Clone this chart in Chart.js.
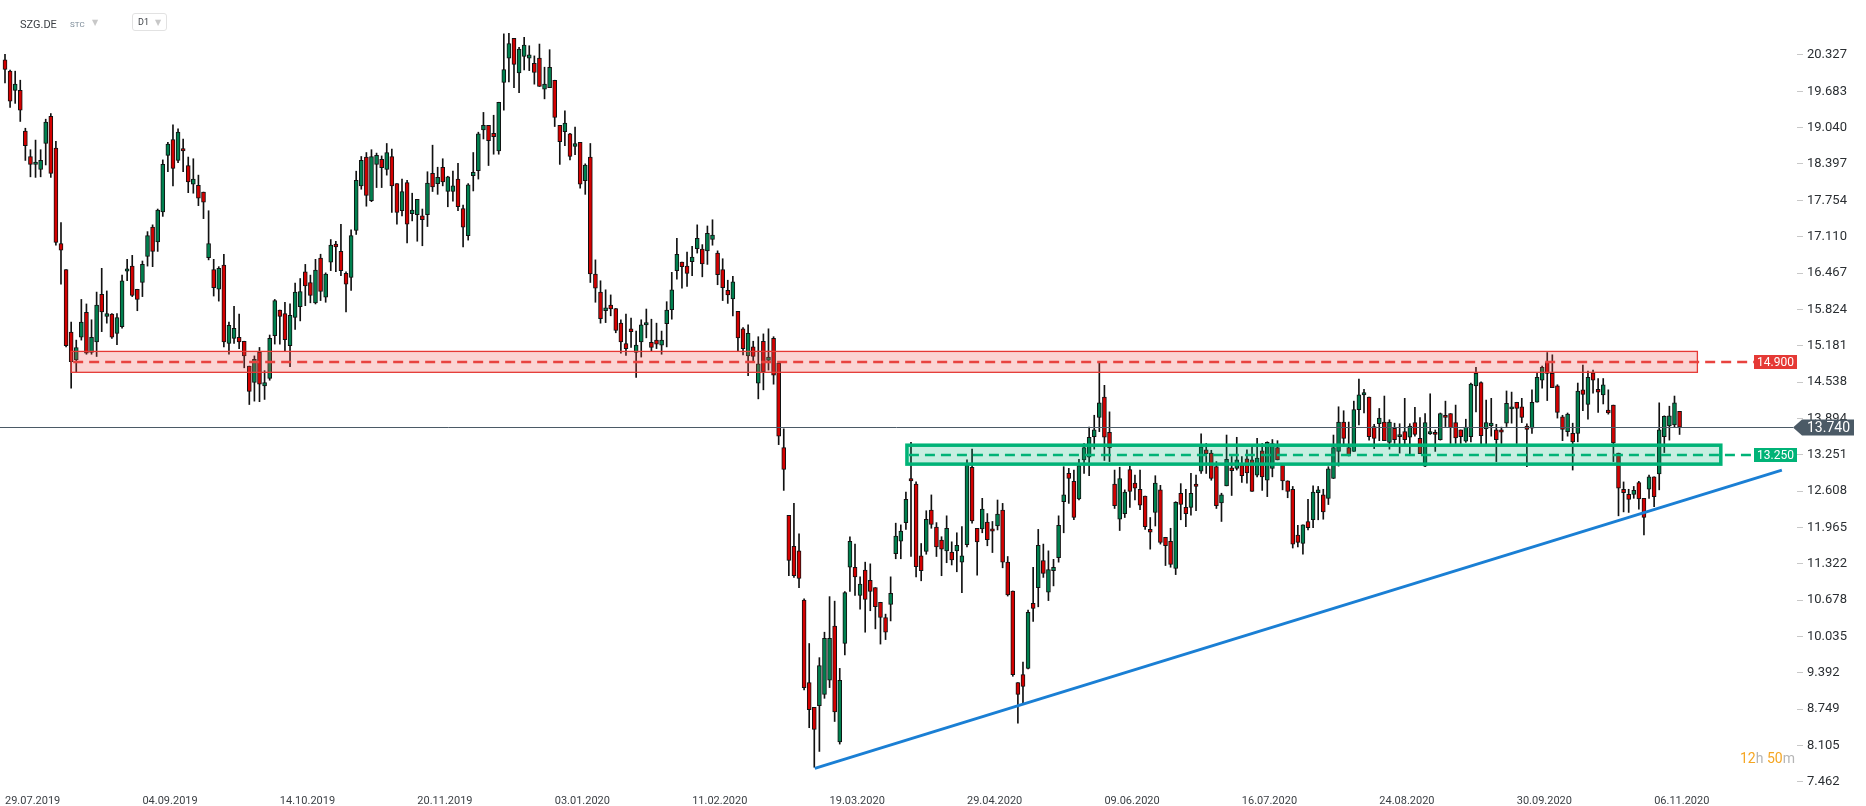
<!DOCTYPE html>
<html>
<head>
<meta charset="utf-8">
<title>SZG.DE D1</title>
<script src="https://cdn.jsdelivr.net/npm/chart.js@4/dist/chart.umd.min.js"></script>
<style>
  body { margin: 0; background: #fff; font-family: Roboto, "DejaVu Sans", sans-serif; }
  #wrap { position: relative; width: 1866px; height: 806px; overflow: hidden; }
  #c { position: absolute; left: 0; top: 0; }
  .sym { position: absolute; left: 20px; top: 18px; font-size: 11px; color: #3b3f44; }
  .stc { position: absolute; left: 70px; top: 20px; font-size: 8px; color: #7d8c99; }
  .caret { position: absolute; font-size: 8px; color: #c8c8c8; }
  .tf { position: absolute; left: 132px; top: 13px; width: 33px; height: 16px; border: 1px solid #e2e2e2; border-radius: 3px; }
  .tf span { position: absolute; left: 5px; top: 3px; font-size: 9px; color: #3b3f44; }
  .timer { position: absolute; left: 1740px; top: 750px; font-size: 14px; color: #f5a623; }
  .timer i { font-style: normal; color: #b5b5b5; }
</style>
</head>
<body>
<div id="wrap">
  <canvas id="c" width="1866" height="806"></canvas>
  <div class="sym">SZG.DE</div>
  <div class="stc">STC</div>
  <div class="caret" style="left:92px;top:18px">&#9660;</div>
  <div class="tf"><span>D1</span><span style="left:22px;color:#c8c8c8;font-size:8px;top:4px">&#9660;</span></div>
  <div class="timer">12<i>h</i> 50<i>m</i></div>
</div>
<script>
// daily candles, 29.07.2019 .. 13.11.2020 (index = trading day)
const opens = [
20.24,20.04,19.70,19.70,18.98,18.53,18.39,18.30,18.76,19.24,18.68,16.99,16.53,15.42,14.93,15.33,15.77,15.06,15.25,16.09,
15.70,15.74,15.40,15.52,16.50,16.59,16.18,16.30,16.76,17.28,17.02,17.55,18.55,18.83,18.46,18.67,18.37,18.04,18.02,17.90,
16.74,16.53,16.18,16.61,15.22,15.31,15.33,15.26,14.82,14.53,15.07,14.47,14.60,15.36,15.81,15.75,15.18,15.68,15.87,16.49,
16.30,15.94,16.73,16.04,16.66,16.98,16.85,16.46,16.39,17.22,18.01,18.52,17.75,18.39,18.48,18.30,18.53,18.05,17.57,18.07,
17.52,17.50,17.48,17.50,18.23,18.05,18.34,17.91,17.91,18.13,17.61,17.13,18.19,18.28,19.00,19.08,18.94,18.63,19.84,20.27,
20.62,20.01,20.30,20.27,20.18,20.27,19.72,19.75,19.88,19.08,18.97,18.93,18.71,18.78,18.10,18.52,16.45,16.13,15.80,15.90,
15.84,15.58,15.22,15.48,15.06,15.25,15.55,15.24,15.28,15.19,15.57,15.82,16.51,16.66,16.59,16.67,16.90,16.89,16.86,17.06,
16.82,16.53,16.16,16.01,15.79,15.48,15.00,15.16,14.52,15.26,14.92,15.31,14.87,13.38,12.18,11.63,11.55,10.68,9.22,8.78,
8.81,9.01,9.26,10.22,8.17,9.91,11.26,11.26,10.76,11.21,11.03,10.90,10.64,10.37,10.60,11.50,11.72,12.05,12.83,12.73,
11.46,11.54,12.27,11.97,11.74,11.55,11.53,11.55,11.35,11.66,13.03,11.95,11.94,12.06,11.94,11.99,12.27,11.35,10.84,9.22,
9.36,9.47,10.62,10.90,11.38,10.82,11.20,11.43,12.42,12.92,12.78,12.47,13.16,13.21,13.57,13.91,14.27,13.65,12.73,12.11,
12.21,12.99,12.75,12.64,12.52,11.93,12.23,12.63,11.79,11.72,11.24,12.57,12.32,12.32,12.73,12.96,13.34,13.28,13.04,12.40,
12.70,13.02,13.01,13.07,13.18,13.16,12.89,13.32,12.80,13.01,13.38,13.07,12.79,12.64,11.83,11.68,12.07,12.10,12.58,12.54,
12.48,12.83,13.31,13.83,13.38,13.31,14.05,14.31,14.27,13.75,13.80,13.83,13.47,13.72,13.57,13.66,13.56,13.82,13.54,13.05,
13.62,13.65,13.52,13.95,13.98,13.82,13.69,13.49,13.57,14.47,14.53,13.71,13.76,13.69,13.69,13.81,14.06,14.18,14.10,13.76,
13.72,14.18,14.57,14.89,14.69,14.47,13.92,13.66,13.63,13.63,14.40,14.14,14.70,14.41,14.31,14.04,14.13,13.28,12.64,12.55,
12.55,12.76,12.48,12.64,12.86,12.91,13.57,13.76,13.78,14.02
];
const highs = [
20.34,20.06,20.04,19.88,19.03,18.65,18.82,18.65,19.19,19.29,18.80,17.36,16.53,15.60,15.28,16.00,15.92,15.64,16.13,16.55,
16.15,15.75,15.75,16.43,16.71,16.78,16.18,16.68,17.20,17.32,17.60,18.47,18.78,19.09,19.02,18.84,18.52,18.49,18.20,17.90,
17.57,16.71,16.58,16.80,15.60,15.88,15.74,15.26,14.82,15.00,15.15,14.74,15.37,16.00,15.81,15.95,15.92,16.29,16.37,16.62,
16.43,16.71,16.80,16.47,17.06,17.03,17.33,16.49,17.23,18.27,18.53,18.60,18.65,18.59,18.54,18.76,18.66,18.05,18.13,18.11,
17.88,17.77,17.60,18.26,18.73,18.34,18.49,18.18,18.27,18.41,17.67,18.05,18.60,18.96,19.31,19.08,19.26,19.49,20.70,20.71,
20.62,20.46,20.64,20.49,20.31,20.52,20.11,20.42,19.88,19.08,19.34,18.94,19.05,18.78,18.40,18.76,16.70,16.33,16.17,16.08,
15.84,15.64,15.74,15.67,15.44,15.64,15.83,15.65,15.58,15.44,15.96,16.48,17.08,16.66,16.84,16.94,17.32,16.97,17.30,17.41,
16.86,16.72,16.34,16.41,15.79,15.50,15.55,15.26,15.34,15.39,15.48,15.34,14.87,13.71,12.18,12.39,11.85,10.70,9.91,8.78,
9.66,10.11,10.74,10.66,9.47,10.83,11.80,11.67,11.09,11.35,11.32,10.90,10.64,10.43,11.09,12.04,12.01,12.59,13.47,12.77,
11.68,12.26,12.54,12.05,11.80,12.17,11.71,11.87,11.98,13.16,13.35,11.95,12.48,12.21,12.07,12.45,12.39,11.45,10.84,9.22,
9.58,10.50,11.26,11.93,11.67,11.55,11.40,12.17,13.04,13.01,12.98,13.17,13.45,13.74,13.95,14.89,14.48,14.01,12.98,13.03,
12.63,13.05,12.89,12.98,12.52,12.14,12.88,12.71,11.79,11.95,12.42,12.74,12.64,12.92,12.89,13.62,13.45,13.33,13.13,12.57,
13.60,13.22,13.56,13.22,13.34,13.42,13.54,13.45,13.48,13.52,13.50,13.07,12.79,12.69,12.00,12.01,12.46,12.70,12.69,12.64,
13.04,13.60,14.10,14.03,13.83,14.20,14.59,14.41,14.27,13.79,14.07,14.29,13.87,13.81,13.80,14.25,13.80,14.09,13.91,13.98,
14.33,13.69,13.99,14.20,13.98,14.13,13.69,13.88,14.52,14.80,14.54,14.22,14.25,13.79,13.74,14.38,14.36,14.18,14.25,13.80,
14.40,14.69,14.82,15.06,15.02,14.49,13.95,13.99,13.81,14.52,14.84,14.73,14.75,14.60,14.60,14.40,14.13,13.28,12.77,12.64,
12.69,12.78,12.48,12.89,12.86,14.17,13.94,14.11,14.29,14.02
];
const lows = [
19.83,19.40,19.47,19.15,18.46,18.17,18.16,18.17,18.38,18.16,16.96,16.27,15.16,14.43,14.72,15.28,15.03,15.03,14.99,15.43,
15.58,15.31,15.20,15.49,16.33,16.05,15.80,16.05,16.59,16.58,16.85,17.47,18.26,18.01,18.42,18.26,17.89,17.88,17.66,17.43,
16.70,16.06,15.97,15.16,15.03,15.22,15.13,14.79,14.14,14.20,14.19,14.23,14.57,15.21,15.21,15.09,14.81,15.47,15.62,15.89,
15.94,15.92,15.98,15.95,16.51,16.49,16.42,15.78,16.16,17.15,17.95,17.65,17.73,17.98,17.98,18.20,17.54,17.33,17.48,17.00,
17.39,17.03,16.95,17.29,17.91,17.86,18.01,17.64,17.74,17.57,16.93,17.05,17.92,18.13,18.84,18.37,18.57,18.57,19.35,19.85,
19.75,19.66,20.06,20.05,19.81,19.77,19.55,19.75,19.06,18.39,18.72,18.47,18.56,17.97,17.86,16.30,15.95,15.58,15.59,15.71,
15.41,15.05,15.01,15.15,14.62,14.98,15.32,15.09,15.13,15.03,15.16,15.65,16.36,16.20,16.23,16.42,16.82,16.40,16.62,16.96,
16.26,15.98,15.93,15.71,15.09,15.02,14.65,14.89,14.24,14.40,14.75,14.50,13.43,12.62,11.11,11.08,10.90,9.09,8.42,7.72,
8.00,8.94,9.13,8.53,8.13,9.71,10.83,10.76,10.52,10.11,10.49,10.17,9.90,9.98,10.31,11.41,11.41,11.93,11.45,11.09,
11.02,11.49,11.95,11.45,11.11,11.34,11.30,11.18,10.81,11.62,12.04,11.12,11.87,11.64,11.52,11.92,11.25,10.75,9.33,8.50,
8.85,9.46,10.30,10.56,11.08,10.67,10.93,11.35,11.87,12.39,12.10,12.45,12.92,12.88,13.35,13.66,13.15,13.13,12.30,11.91,
12.14,12.32,12.45,12.28,11.93,11.58,11.99,11.67,11.29,11.26,11.13,12.10,11.98,12.18,12.26,12.92,12.92,12.80,12.30,12.07,
12.70,12.53,12.98,12.76,12.75,12.60,12.86,12.62,12.51,12.86,13.16,12.63,12.49,11.60,11.62,11.49,11.92,11.96,12.10,12.11,
12.37,12.83,13.05,13.40,13.23,13.31,13.78,13.99,13.51,13.36,13.50,13.50,13.35,13.45,13.28,13.42,13.26,13.58,13.27,13.04,
13.61,13.31,13.51,13.75,13.45,13.45,13.45,13.47,13.48,14.01,13.42,13.42,13.58,13.13,13.45,13.75,13.81,13.45,13.82,13.04,
13.63,14.18,14.43,14.21,14.44,13.90,13.50,13.58,12.98,13.48,14.03,13.88,14.34,14.00,14.15,13.97,13.13,12.17,12.24,12.23,
12.48,12.29,11.83,12.48,12.33,12.63,13.29,13.51,13.74,13.61
];
const closes = [
20.07,19.51,19.81,19.35,18.72,18.39,18.43,18.46,19.14,18.23,17.01,16.87,15.18,14.90,15.15,15.60,15.05,15.33,15.90,15.78,
15.75,15.33,15.68,16.33,16.54,16.07,16.00,16.62,17.13,16.85,17.58,18.39,18.75,18.32,18.96,18.63,18.08,18.13,17.79,17.72,
16.99,16.21,16.55,15.25,15.54,15.49,15.25,15.00,14.37,14.94,14.50,14.53,15.31,15.98,15.70,15.29,15.72,16.13,16.14,16.24,
16.07,16.52,16.14,16.45,16.96,16.93,16.51,16.27,17.13,18.11,18.46,17.84,18.53,18.55,18.33,18.60,18.01,17.54,17.91,17.33,
17.58,17.77,17.41,18.06,17.99,18.16,18.08,18.17,18.01,17.64,17.28,18.03,18.25,18.93,19.08,18.81,18.88,19.49,20.07,20.53,
20.16,20.43,20.50,20.33,20.02,19.77,19.81,20.11,19.22,18.79,19.12,18.53,18.76,18.04,18.38,16.45,16.20,15.66,15.85,15.83,
15.45,15.25,15.13,15.43,15.19,15.55,15.59,15.15,15.21,15.28,15.81,16.17,16.80,16.58,16.46,16.75,17.08,16.63,17.17,17.14,
16.44,16.21,16.08,16.31,15.32,15.13,15.40,14.99,14.86,14.72,14.98,14.66,13.58,12.99,11.38,11.11,11.06,9.13,8.74,8.39,
9.52,10.00,10.00,8.70,9.26,10.81,11.72,11.09,10.96,10.69,10.83,10.56,10.37,10.11,10.80,11.81,11.90,12.46,12.79,11.27,
11.20,12.11,12.02,11.62,11.58,11.95,11.39,11.65,11.46,13.07,12.08,11.71,12.29,11.75,11.90,12.20,11.35,10.77,9.36,9.01,
9.15,10.46,10.53,11.65,11.15,11.22,11.26,12.00,12.54,12.83,12.14,13.06,13.38,13.56,13.69,14.17,13.56,13.37,12.35,12.83,
12.59,12.60,12.66,12.36,11.98,11.88,12.75,11.70,11.64,11.31,12.41,12.37,12.21,12.57,12.69,13.39,13.27,12.83,12.35,12.54,
13.17,12.97,13.16,12.88,12.93,12.60,13.19,12.86,13.47,13.45,13.16,12.79,12.60,11.67,11.70,12.01,11.96,12.59,12.63,12.24,
13.00,13.38,13.83,13.54,13.23,14.05,14.31,14.35,13.57,13.54,13.90,13.50,13.83,13.52,13.61,13.52,13.76,13.61,13.27,13.82,
13.66,13.61,13.98,13.91,13.73,13.55,13.57,13.74,14.50,14.69,13.59,13.82,13.81,13.52,13.65,14.16,14.10,14.07,13.91,13.70,
14.18,14.62,14.80,14.69,14.44,14.00,13.70,13.97,13.48,14.38,14.32,14.62,14.57,14.36,14.49,13.99,13.46,12.66,12.58,12.46,
12.62,12.47,12.14,12.86,12.51,13.69,13.93,13.94,14.17,13.74
];

// date axis: one label every 27 sessions
const dateTicks = [0, 27, 54, 81, 108, 135, 162, 189, 216, 243, 270, 297, 324];
const dateLabels = ['29.07.2019', '04.09.2019', '14.10.2019', '20.11.2019', '03.01.2020', '11.02.2020',
  '19.03.2020', '29.04.2020', '09.06.2020', '16.07.2020', '24.08.2020', '30.09.2020', '06.11.2020'];
const priceTicks = [7.462, 8.105, 8.749, 9.392, 10.035, 10.678, 11.322, 11.965, 12.608, 13.251, 13.894,
  14.538, 15.181, 15.824, 16.467, 17.110, 17.754, 18.397, 19.040, 19.683, 20.327];

const lastPrice = 13.74;
// zones: [fromIndex, toIndex, low, high]
const redZone = [13, 332.5, 14.71, 15.08];
const redLevel = 14.90;
const greenZone = [177.2, 337.1, 13.085, 13.42];
const greenLevel = 13.25;
// support trend line (index, price)
const trendX = [159.1, 349.1];
const trendY = [7.70, 12.98];

const UP = '#00804f', DOWN = '#d40000';
const candleCol = opens.map((o, i) => closes[i] >= o ? UP : DOWN);

const bodies = opens.map((o, i) => ({ x: i, y: [o, closes[i]] }));
const wicks = lows.map((l, i) => ({ x: i, y: [l, highs[i]] }));

const overlays = {
  id: 'overlays',
  afterDatasetsDraw(chart) {
    const { ctx, chartArea, scales: { x, y } } = chart;
    const tagL = chartArea.right - 43;

    function zone(z, level, fill, stroke, lw, dash) {
      const x0 = x.getPixelForValue(z[0]), x1 = x.getPixelForValue(z[1]);
      const yHi = y.getPixelForValue(z[3]), yLo = y.getPixelForValue(z[2]);
      ctx.save();
      ctx.fillStyle = fill;
      ctx.fillRect(x0, yHi, x1 - x0, yLo - yHi);
      ctx.strokeStyle = stroke;
      ctx.lineWidth = lw;
      ctx.strokeRect(x0, yHi, x1 - x0, yLo - yHi);
      const yl = Math.round(y.getPixelForValue(level));
      ctx.setLineDash([10, 6]);
      ctx.lineWidth = 2.5;
      ctx.strokeStyle = dash;
      ctx.beginPath();
      ctx.moveTo(x0 + 2, yl);
      ctx.lineTo(tagL, yl);
      ctx.stroke();
      ctx.restore();
    }
    zone(redZone, redLevel, 'rgba(239,83,80,0.25)', '#e53935', 1.3, '#e8433f');
    zone(greenZone, greenLevel, 'rgba(0,179,119,0.22)', '#00b377', 3.5, '#00b377');

    // last price line
    const yp = Math.round(y.getPixelForValue(lastPrice)) + 0.5;
    ctx.save();
    ctx.strokeStyle = '#4b5a66';
    ctx.lineWidth = 1;
    ctx.beginPath();
    ctx.moveTo(chartArea.left, yp);
    ctx.lineTo(chartArea.right - 4, yp);
    ctx.stroke();
    ctx.restore();
  },
  afterDraw(chart) {
    const { ctx, chartArea, scales: { y } } = chart;
    const tagL = chartArea.right - 43;
    ctx.save();
    ctx.font = '12px Roboto, "DejaVu Sans", sans-serif';
    ctx.textBaseline = 'middle';
    ctx.textAlign = 'center';
    [[redLevel, '#e53935'], [greenLevel, '#00b377']].forEach(([v, c]) => {
      const yc = Math.round(y.getPixelForValue(v));
      ctx.fillStyle = c;
      ctx.fillRect(tagL, yc - 7, 43, 14);
      ctx.fillStyle = '#fff';
      ctx.fillText(v.toFixed(3), tagL + 21.5, yc + 0.5);
    });
    // last price tag
    const yp = Math.round(y.getPixelForValue(lastPrice)) + 0.5;
    const x0 = chartArea.right - 4;
    ctx.fillStyle = '#4b5a66';
    ctx.beginPath();
    ctx.moveTo(x0, yp);
    ctx.lineTo(x0 + 9, yp - 8);
    ctx.lineTo(x0 + 61, yp - 8);
    ctx.lineTo(x0 + 61, yp + 8);
    ctx.lineTo(x0 + 9, yp + 8);
    ctx.closePath();
    ctx.fill();
    ctx.fillStyle = '#fff';
    ctx.textAlign = 'left';
    ctx.font = '14px Roboto, "DejaVu Sans", sans-serif';
    ctx.fillText(lastPrice.toFixed(3), x0 + 14, yp + 0.5);
    ctx.restore();
  }
};

new Chart(document.getElementById('c'), {
  type: 'bar',
  data: {
    datasets: [
      {
        type: 'line',
        data: trendX.map((v, i) => ({ x: v, y: trendY[i] })),
        borderColor: '#1a7fd4',
        borderWidth: 3,
        pointRadius: 0,
        pointHoverRadius: 0,
        order: 0
      },
      {
        data: bodies,
        backgroundColor: candleCol,
        borderColor: '#111',
        borderWidth: 1,
        borderSkipped: false,
        barThickness: 4,
        minBarLength: 2,
        grouped: false,
        order: 1
      },
      {
        data: wicks,
        backgroundColor: '#111',
        borderWidth: 0,
        barThickness: 1,
        grouped: false,
        order: 2
      }
    ]
  },
  options: {
    responsive: false,
    animation: false,
    devicePixelRatio: 1,
    layout: { padding: 0, autoPadding: false },
    plugins: { legend: { display: false }, tooltip: { enabled: false } },
    scales: {
      x: {
        type: 'linear',
        offset: false,
        min: -0.982,
        max: 352.07,
        grid: { display: false },
        border: { display: false },
        afterBuildTicks: s => { s.ticks = dateTicks.map(v => ({ value: v })); },
        afterFit: s => { s.height = 22; s.paddingLeft = 0; s.paddingRight = 0; },
        ticks: {
          autoSkip: false,
          maxRotation: 0,
          align: 'start',
          padding: 3,
          color: '#3b3f44',
          font: { family: 'Roboto', size: 11 },
          callback: v => dateLabels[dateTicks.indexOf(v)]
        }
      },
      y: {
        position: 'right',
        min: 7.4236,
        max: 21.2996,
        grid: { drawOnChartArea: false, drawTicks: true, tickLength: 6, color: '#c8c8c8' },
        border: { display: false },
        afterBuildTicks: s => { s.ticks = priceTicks.map(v => ({ value: v })); },
        afterFit: s => { s.width = 69; s.paddingTop = 0; s.paddingBottom = 0; },
        ticks: {
          padding: 4,
          color: '#2b2f33',
          font: { family: 'Roboto', size: 13 },
          callback: v => v.toFixed(3)
        }
      }
    }
  },
  plugins: [overlays]
});
</script>
</body>
</html>
